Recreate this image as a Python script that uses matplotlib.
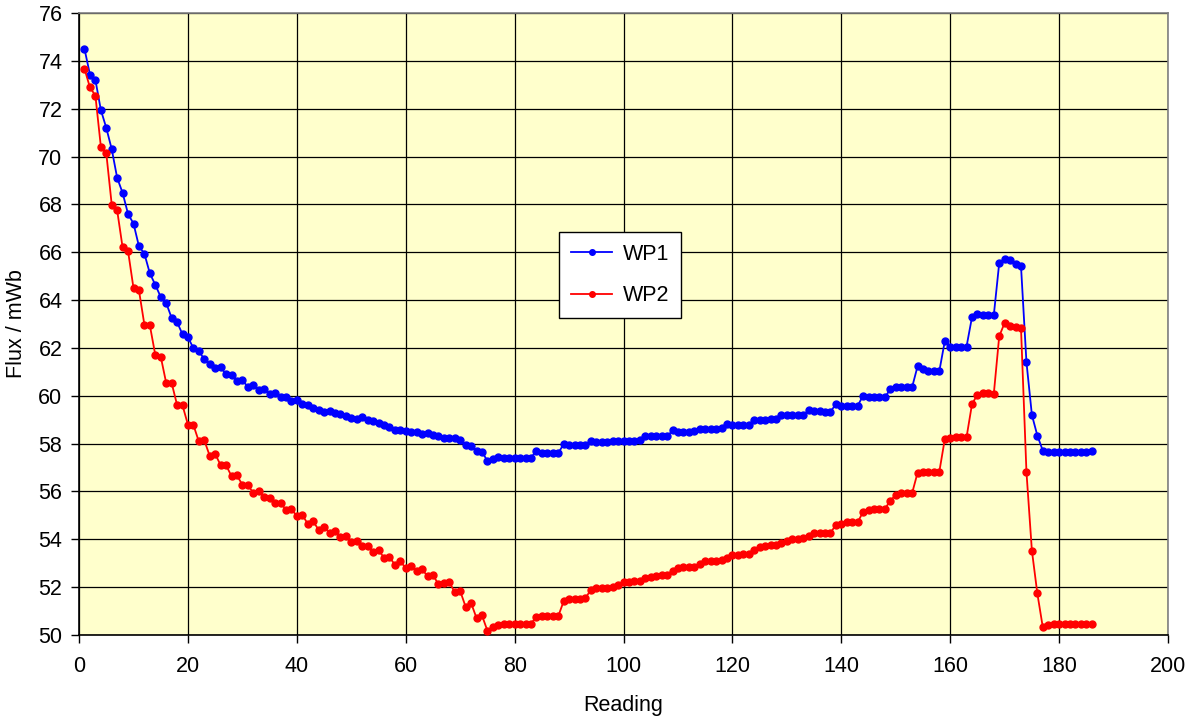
import numpy as np
import matplotlib
matplotlib.use("Agg")
import matplotlib.pyplot as plt

# =========================
# Data
# =========================
readings = np.arange(1, 187)

wp1 = [
    74.50, 73.43, 73.21, 71.95, 71.20, 70.31, 69.11, 68.48, 67.60, 67.20,
    66.25, 65.94, 65.12, 64.64, 64.13, 63.88, 63.26, 63.08, 62.57, 62.45,
    61.99, 61.88, 61.52, 61.34, 61.18, 61.20, 60.90, 60.88, 60.61, 60.64,
    60.38, 60.44, 60.23, 60.28, 60.09, 60.11, 59.93, 59.96, 59.77, 59.82,
    59.66, 59.60, 59.48, 59.39, 59.34, 59.37, 59.26, 59.23, 59.15, 59.09,
    59.05, 59.12, 58.98, 58.94, 58.85, 58.80, 58.69, 58.59, 58.56, 58.53,
    58.48, 58.48, 58.41, 58.44, 58.38, 58.34, 58.24, 58.23, 58.23, 58.16,
    57.94, 57.92, 57.70, 57.67, 57.27, 57.35, 57.43, 57.41, 57.41, 57.41,
    57.41, 57.41, 57.41, 57.70, 57.60, 57.60, 57.60, 57.60, 57.98, 57.93,
    57.93, 57.93, 57.95, 58.09, 58.05, 58.05, 58.07, 58.09, 58.12, 58.12,
    58.12, 58.12, 58.17, 58.30, 58.30, 58.30, 58.30, 58.30, 58.55, 58.50,
    58.50, 58.50, 58.52, 58.63, 58.63, 58.63, 58.63, 58.66, 58.81, 58.78,
    58.78, 58.78, 58.78, 58.98, 59.00, 59.00, 59.01, 59.05, 59.20, 59.19,
    59.19, 59.19, 59.19, 59.40, 59.36, 59.36, 59.34, 59.34, 59.64, 59.58,
    59.58, 59.58, 59.58, 60.01, 59.94, 59.94, 59.94, 59.93, 60.28, 60.36,
    60.36, 60.36, 60.36, 61.23, 61.13, 61.03, 61.03, 61.03, 62.28, 62.06,
    62.06, 62.06, 62.06, 63.29, 63.40, 63.38, 63.37, 63.36, 65.55, 65.73,
    65.66, 65.49, 65.42, 61.41, 59.20, 58.34, 57.71, 57.63, 57.63, 57.63,
    57.63, 57.63, 57.63, 57.63, 57.63, 57.70,
]

wp2 = [
    73.67, 72.89, 72.55, 70.42, 70.14, 67.99, 67.75, 66.20, 66.05, 64.50,
    64.41, 62.97, 62.95, 61.71, 61.64, 60.54, 60.54, 59.62, 59.60, 58.79,
    58.78, 58.09, 58.14, 57.49, 57.57, 57.10, 57.10, 56.64, 56.67, 56.28,
    56.28, 55.93, 56.01, 55.75, 55.73, 55.51, 55.52, 55.24, 55.28, 54.96,
    55.02, 54.65, 54.75, 54.40, 54.52, 54.27, 54.36, 54.08, 54.15, 53.89,
    53.95, 53.74, 53.74, 53.47, 53.56, 53.23, 53.26, 52.94, 53.08, 52.80,
    52.90, 52.69, 52.76, 52.45, 52.51, 52.12, 52.16, 52.22, 51.78, 51.84,
    51.18, 51.34, 50.71, 50.82, 50.18, 50.35, 50.42, 50.44, 50.46, 50.47,
    50.47, 50.47, 50.47, 50.77, 50.78, 50.78, 50.78, 50.78, 51.41, 51.49,
    51.52, 51.51, 51.55, 51.88, 51.97, 51.97, 51.97, 51.99, 52.10, 52.20,
    52.23, 52.24, 52.27, 52.38, 52.44, 52.48, 52.52, 52.52, 52.69, 52.80,
    52.86, 52.86, 52.83, 52.96, 53.08, 53.10, 53.11, 53.15, 53.22, 53.33,
    53.36, 53.39, 53.40, 53.57, 53.68, 53.74, 53.75, 53.75, 53.86, 53.95,
    54.02, 54.02, 54.06, 54.14, 54.25, 54.25, 54.25, 54.27, 54.60, 54.66,
    54.72, 54.72, 54.71, 55.15, 55.23, 55.27, 55.27, 55.27, 55.62, 55.85,
    55.93, 55.93, 55.93, 56.78, 56.80, 56.80, 56.80, 56.83, 58.18, 58.25,
    58.27, 58.27, 58.27, 59.65, 60.05, 60.11, 60.11, 60.07, 62.49, 63.05,
    62.93, 62.87, 62.82, 56.82, 53.53, 51.74, 50.33, 50.40, 50.46, 50.46,
    50.47, 50.46, 50.48, 50.48, 50.46, 50.46,
]

x_ticks = list(range(0, 201, 20))
y_ticks = list(range(50, 77, 2))

# =========================
# Plot
# =========================
plt.rcParams["font.family"] = ["Liberation Sans", "DejaVu Sans"]
FS = 15.5

fig = plt.figure(figsize=(11.87, 7.16), dpi=100)
ax = fig.add_axes([0.0666, 0.1131, 0.9174, 0.8687])
ax.set_facecolor("#FFFFCC")

ax.plot(readings, wp1, color="#0000FF", lw=1.3, marker="o", ms=5.0, label="WP1", zorder=3)
ax.plot(readings, wp2, color="#FF0000", lw=1.3, marker="o", ms=5.0, label="WP2", zorder=3)

ax.set_xlim(0, 200)
ax.set_ylim(50, 76)
ax.set_xticks(x_ticks)
ax.set_yticks(y_ticks)
ax.grid(True, color="black", lw=0.9, zorder=1)
ax.set_axisbelow(True)

for s in ax.spines.values():
    s.set_color("#808080")
    s.set_linewidth(1.2)
ax.spines["left"].set_color("black")
ax.spines["bottom"].set_color("black")

ax.tick_params(direction="out", length=6, width=1, colors="black", labelsize=FS)
ax.tick_params(axis="x", pad=9)
ax.tick_params(axis="y", pad=6)
ax.set_xlabel("Reading", fontsize=FS, labelpad=13)
ax.set_ylabel("Flux / mWb", fontsize=FS, labelpad=8)

leg = ax.legend(loc="upper left", bbox_to_anchor=(0.441, 0.648), borderaxespad=0,
                fontsize=FS, frameon=True, fancybox=False, handlelength=1.9,
                labelspacing=0.95, borderpad=0.55, handletextpad=0.5,
                markerscale=0.8)
leg.get_frame().set_edgecolor("black")
leg.get_frame().set_linewidth(1.0)
leg.get_frame().set_facecolor("white")
leg.get_frame().set_alpha(1.0)

fig.savefig("out.png", dpi=100)
plt.close()
